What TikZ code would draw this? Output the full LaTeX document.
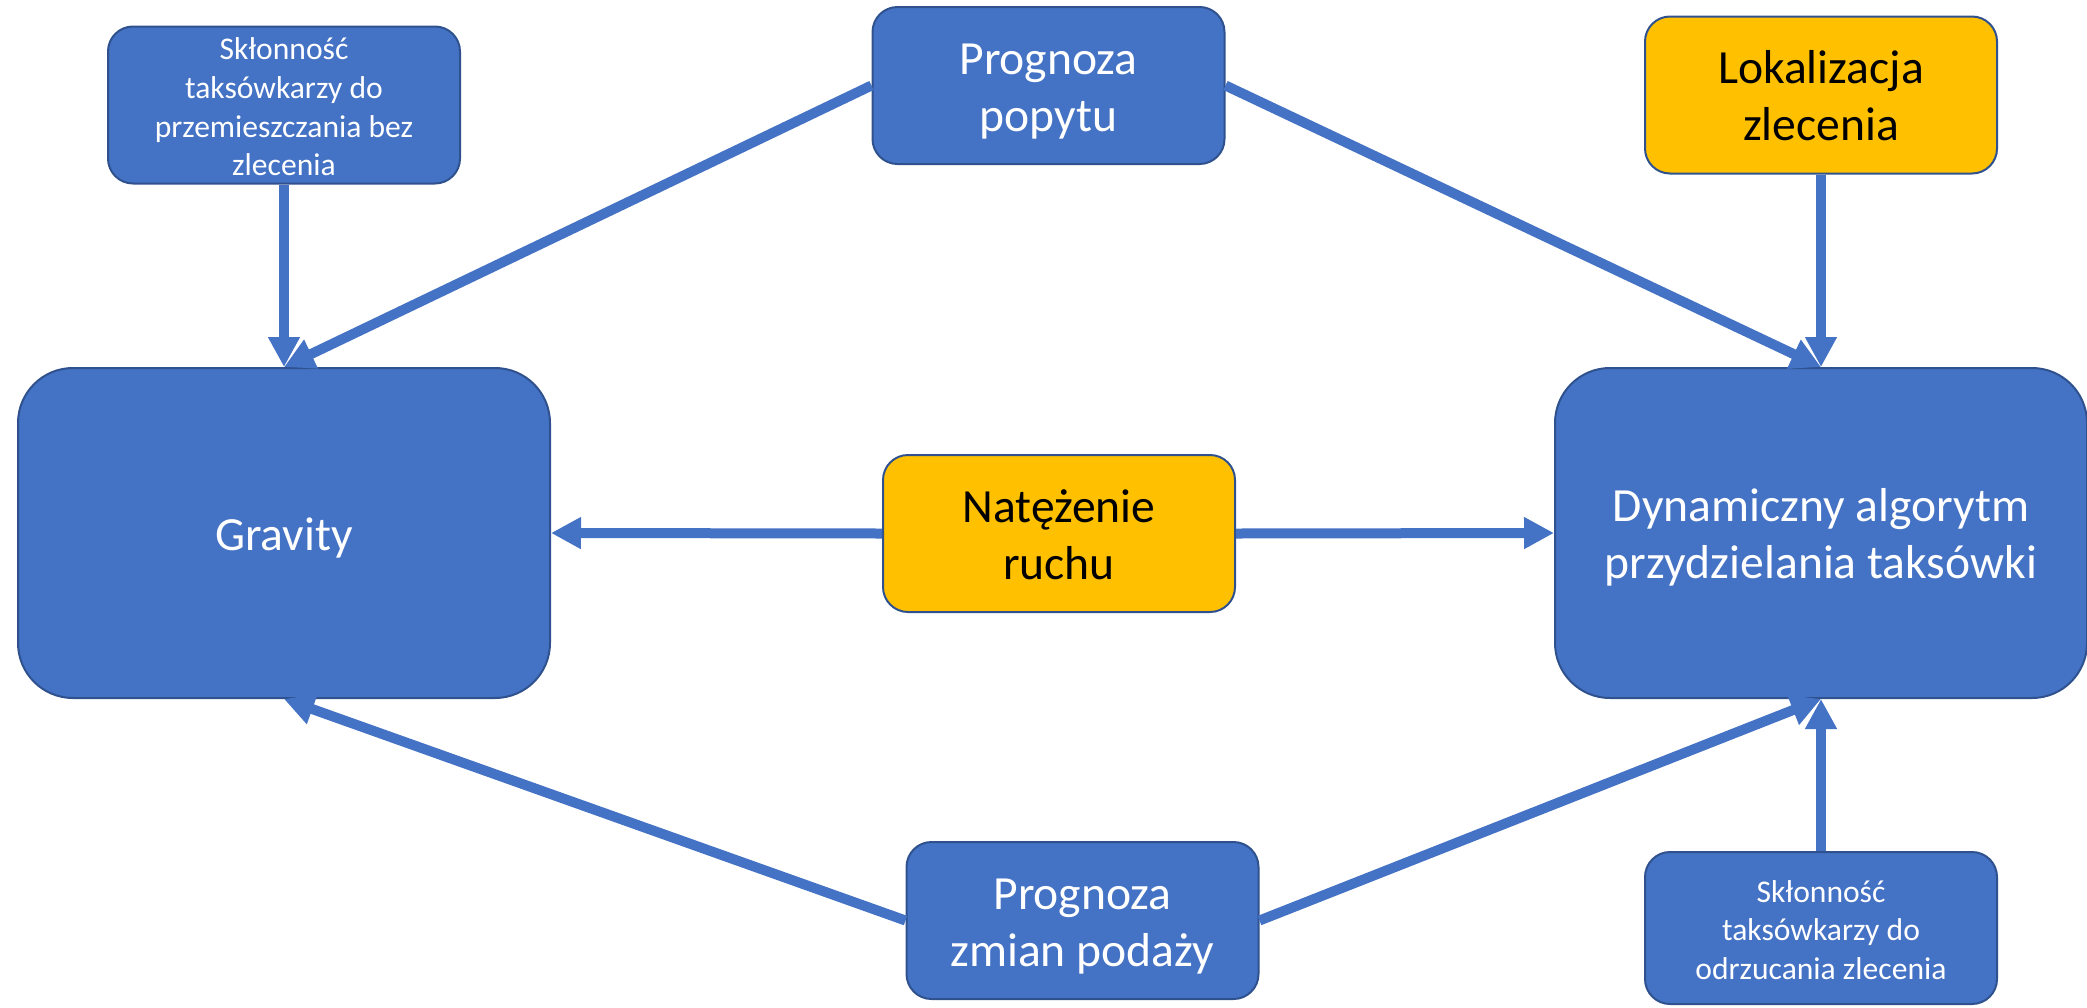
\documentclass[tikz,border=0pt]{standalone}
\usepackage{fontspec}
\setmainfont{Carlito}
\usetikzlibrary{arrows.meta}

\definecolor{boxblue}{HTML}{4472C4}
\definecolor{edgeblue}{HTML}{2F528F}
\definecolor{amber}{HTML}{FFC000}

% invisible struts that give every text block the same top and bottom
\newcommand\upstrut{\rule{0pt}{0.97em}}
\newcommand\downstrut[1][0.25em]{\rule[-#1]{0pt}{0pt}}

\tikzset{
  card/.style={rectangle, rounded corners=12.5pt, draw=edgeblue, line width=1pt,
    fill=boxblue, text=white, align=center, inner sep=0pt,
    minimum width=176pt, minimum height=78.5pt,
    font=\fontsize{23.8pt}{28.5pt}\selectfont},
  smallcard/.style={card, font=\fontsize{15.8pt}{19.3pt}\selectfont},
  ambercard/.style={card, fill=amber, text=black},
  bigcard/.style={card, rounded corners=27.5pt, minimum width=266pt, minimum height=165pt},
  link/.style={draw=boxblue, line width=5pt, -{Triangle[length=15pt,width=15pt]}}
}

\begin{document}
\begin{tikzpicture}[x=0.5pt,y=-0.5pt]
  \useasboundingbox (0,0) rectangle (2087,1007);

  % main blocks
  \node[bigcard] (grav) at (284,533) {\upstrut Gravity\downstrut};
  \node[bigcard] (dyn) at (1821,533) {\upstrut Dynamiczny algorytm\\przydzielania taksówki\downstrut};

  % input factors
  \node[smallcard] (sklA) at (284,105) {\upstrut Skłonność\\taksówkarzy do\\przemieszczania bez\\zlecenia\downstrut[0.16em]};
  \node[card] (popyt) at (1048.5,85.5) {\upstrut Prognoza\\popytu\downstrut};
  \node[ambercard] (lok) at (1821,95) {\upstrut Lokalizacja\\zlecenia\downstrut};
  \node[ambercard] (nat) at (1059,533.5) {\upstrut Natężenie\\ruchu\downstrut};
  \node[card] (podaz) at (1082.5,920.5) {\upstrut Prognoza\\zmian podaży\downstrut};
  \node[smallcard, minimum height=76pt] (sklB) at (1821,928) {\upstrut Skłonność\\taksówkarzy do\\odrzucania zlecenia\downstrut[0.16em]};

  % influences
  \draw[link] (sklA.south) -- (grav.north);
  \draw[link] (popyt.west) -- (grav.north);
  \draw[link] (popyt.east) -- (dyn.north);
  \draw[link] (lok.south) -- (dyn.north);
  \draw[link] (nat.west) -- (grav.east);
  \draw[link] (nat.east) -- (dyn.west);
  \draw[link] (podaz.west) -- (grav.south);
  \draw[link] (podaz.east) -- (dyn.south);
  \draw[link] (sklB.north) -- (dyn.south);
\end{tikzpicture}
\end{document}
